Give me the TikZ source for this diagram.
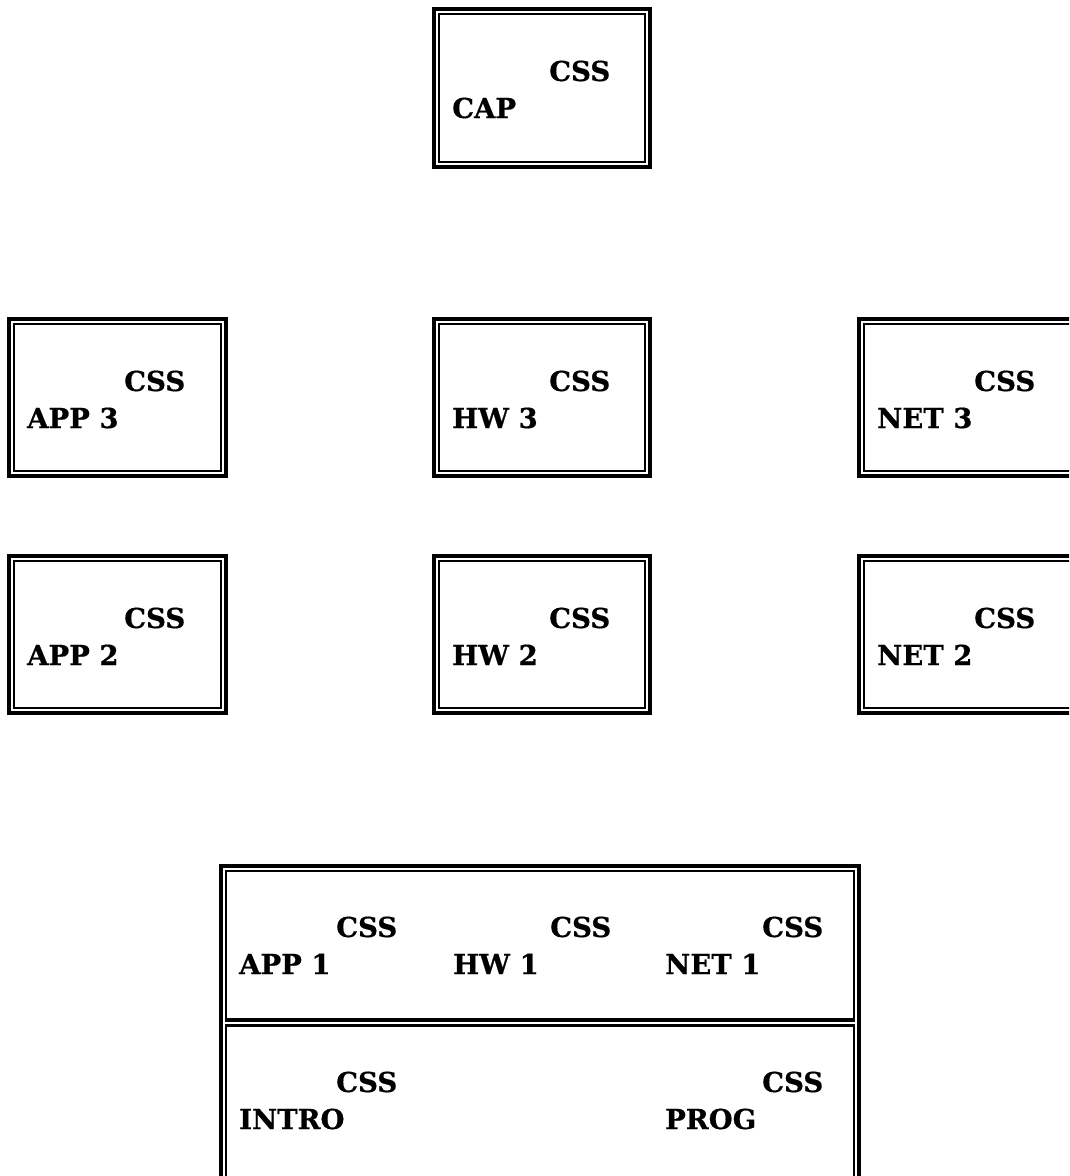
\documentclass[tikz,border=0pt]{standalone}
\usepackage{fontspec}
\setmainfont{DejaVu Serif}[BoldFeatures={FakeBold=0.6}]
\begin{document}
\begin{tikzpicture}[x=1pt,y=1pt,
  outerline/.style={line width=4pt},
  innerline/.style={line width=2.2pt},
  frame/.style={rectangle, draw, outerline, inner sep=0pt, outer sep=0pt, anchor=north west,
    path picture={\draw[innerline]
      ([shift={(4.8pt,-4.8pt)}]path picture bounding box.north west) rectangle
      ([shift={(-4.8pt,4.8pt)}]path picture bounding box.south east);}},
  plainframe/.style={rectangle, draw, outerline, inner sep=0pt, outer sep=0pt, anchor=north west},
  lbl/.style={anchor=base west, inner sep=0pt, font=\fontsize{27.5}{33}\selectfont\bfseries}]
% page area
\useasboundingbox (0,0) rectangle (1069,-1176);
\clip (0,0) rectangle (1069,-1176);

% box given by outer left, top, width and height
\newcommand\coursebox[5]{%
  \node[#5, minimum width={(#3-4)*1pt}, minimum height={(#4-4)*1pt}] (#1) at (#2) {};
}
% a "CSS" tag and a course name, placed from a box's top-left corner
\newcommand\coursetext[4]{%
  \node[lbl] (#1-css) at (#2+117,-#3-74) {CSS};
  \node[lbl] (#1-name) at (#2+20,-#3-111) {#4};
}

% top
\coursebox{cap}{434,-9}{220}{162}{frame}
\coursetext{cap}{432}{7}{CAP}

% third-year row
\coursebox{app3}{9,-319}{221}{161}{frame}
\coursetext{app3}{7}{317}{APP 3}
\coursebox{hw3}{434,-319}{220}{161}{frame}
\coursetext{hw3}{432}{317}{HW 3}
\coursebox{net3}{859,-319}{240}{161}{frame}
\coursetext{net3}{857}{317}{NET 3}

% second-year row
\coursebox{app2}{9,-556}{221}{161}{frame}
\coursetext{app2}{7}{554}{APP 2}
\coursebox{hw2}{434,-556}{220}{161}{frame}
\coursetext{hw2}{432}{554}{HW 2}
\coursebox{net2}{859,-556}{240}{161}{frame}
\coursetext{net2}{857}{554}{NET 2}

% first-year and foundation block: one outer frame split into two rows
\coursebox{block}{221,-866}{642}{360}{plainframe}
\coordinate (ul) at ([shift={(4.8,-4.8)}]block.north west);
\coordinate (ur) at ([shift={(-4.8,-4.8)}]block.north east);
\coordinate (ml) at (ul |- 0,-1020);
\coordinate (mr) at (ur |- 0,-1020);
\coordinate (ll) at (ul |- 0,-1025.5);
\coordinate (lr) at (ur |- 0,-1025.5);
\coordinate (bl) at (ul |- block.south);
\coordinate (br) at (ur |- block.south);
\draw[innerline] (ml) -- (ul) -- (ur) -- (mr);
\draw[outerline] ([xshift=-1.1]ml) -- ([xshift=1.1]mr);
\draw[innerline] (bl) -- (ll) -- (lr) -- (br);

\coursetext{app1}{219}{863}{APP 1}
\coursetext{hw1}{433}{863}{HW 1}
\coursetext{net1}{645}{863}{NET 1}
\coursetext{intro}{219}{1018}{INTRO}
\coursetext{prog}{645}{1018}{PROG}
\end{tikzpicture}
\end{document}
